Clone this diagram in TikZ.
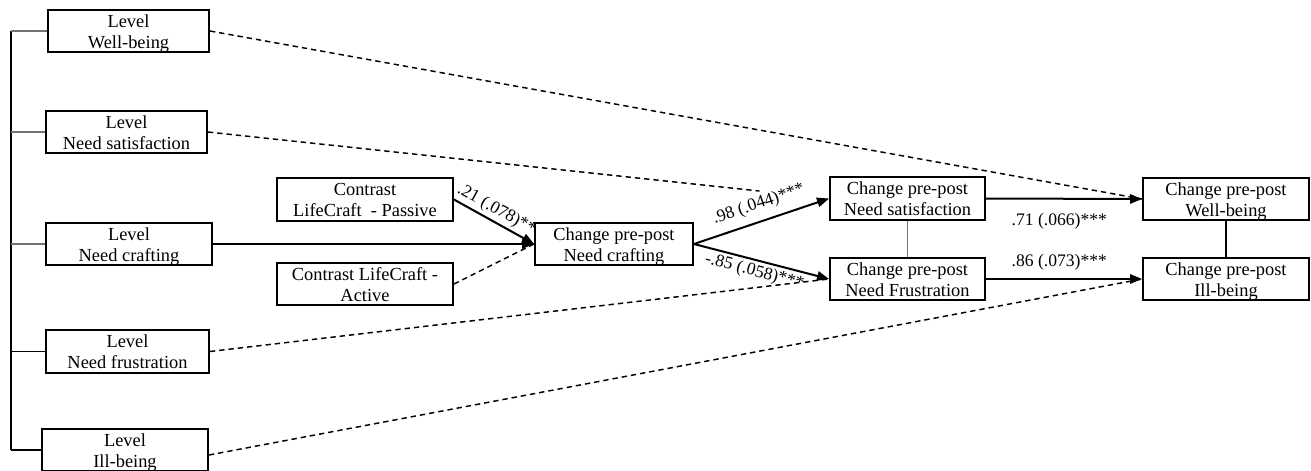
\documentclass[tikz,border=0pt]{standalone}
\usepackage{fontspec}
\setmainfont{Liberation Serif}
\usetikzlibrary{arrows.meta,calc}
\newcommand\bxs{\rule[-3pt]{0pt}{15.75pt}}
\begin{document}
\begin{tikzpicture}[x=0.75pt,y=-0.75pt,
  box/.style 2 args={draw, line width=1.4pt, inner sep=0pt, align=center,
    minimum width=#1*0.75pt, minimum height=#2*0.75pt,
    font=\fontsize{13.8pt}{15.75pt}\selectfont},
  arr/.style={line width=1.5pt, -{Triangle[length=9pt,width=7pt]}},
  dsh/.style={line width=1.1pt, dash pattern=on 4pt off 3pt},
  lbl/.style={font=\fontsize{13.2pt}{15pt}\selectfont, inner sep=0pt},
  lnk/.style={line width=0.8pt},
  glnk/.style={line width=0.8pt, black!55}]
\useasboundingbox (0,0) rectangle (1311,471);

% level boxes
\node[box={161}{42}] (lwb) at (128.5,31) {\bxs Level\\Well-being\bxs};
\node[box={161}{42}] (lns) at (126.5,132) {\bxs Level\\Need satisfaction\bxs};
\node[box={166}{42}] (lnc) at (129,244) {\bxs Level\\Need crafting\bxs};
\node[box={163}{43}] (lnf) at (127.5,351.5) {\bxs Level\\Need frustration\bxs};
\node[box={166}{41}] (lib) at (125,450) {\bxs Level\\Ill-being\bxs};

% contrast boxes
\node[box={176}{43}] (cp) at (365,199.5) {\bxs Contrast\\LifeCraft~ - Passive\bxs};
\node[box={176}{42}] (ca) at (365,284) {\bxs Contrast LifeCraft -\\Active\bxs};

% change boxes
\node[box={158}{42}] (cnc) at (614,244) {\bxs Change pre-post\\Need crafting\bxs};
\node[box={155}{43}] (cns) at (907.5,198.5) {\bxs Change pre-post\\Need satisfaction\bxs};
\node[box={155}{42}] (cnf) at (907.5,279) {\bxs Change pre-post\\Need Frustration\bxs};
\node[box={166}{42}] (cwb) at (1226,199) {\bxs Change pre-post\\Well-being\bxs};
\node[box={166}{42}] (cib) at (1226,279) {\bxs Change pre-post\\Ill-being\bxs};

% bracket on the left
\coordinate (br) at (11,31);
\draw[lnk] (lwb.west -| br) -- (lib.west -| br);
\draw[glnk] (lwb.west) -- (lwb.west -| br);
\draw[glnk] (lns.west) -- (lns.west -| br);
\draw[glnk] (lnc.west) -- (lnc.west -| br);
\draw[lnk] (lnf.west) -- (lnf.west -| br);
\draw[lnk] (lib.west) -- (lib.west -| br);

% correlations on the right
\draw[line width=1pt, black!55] (cns.south) -- (cnf.north);
\draw[lnk] (cwb.south) -- (cib.north);

% dashed paths
\coordinate (nsend) at ($(lns.east)!0.888!(cns.west)$);
\draw[dsh] (lwb.east) -- (cwb.west);
\draw[dsh] (lns.east) -- (nsend);
\draw[dsh] (ca.east) -- (cnc.west);
\draw[dsh] (lnf.east) -- (cnf.west);
\draw[dsh] ([yshift=-3.75pt]lib.east) -- (cib.west);

% solid arrows
\draw[arr] (lnc.east) -- (cnc.west);
\draw[arr] (cp.east) -- node[lbl, sloped, above=2pt, pos=0.46] {.21 (.078)**} (cnc.west);
\draw[arr] (cnc.east) -- node[lbl, sloped, above=6pt, pos=0.52] {.98 (.044)***} (cns.west);
\draw[arr] (cnc.east) -- node[lbl, sloped, below=2pt, pos=0.47] {-.85 (.058)***} (cnf.west);
\draw[arr] (cns.east) -- node[lbl, below=10pt, pos=0.47] {.71 (.066)***} (cwb.west);
\draw[arr] (cnf.east) -- node[lbl, above=6pt, pos=0.47] {.86 (.073)***} (cib.west);
\end{tikzpicture}
\end{document}
